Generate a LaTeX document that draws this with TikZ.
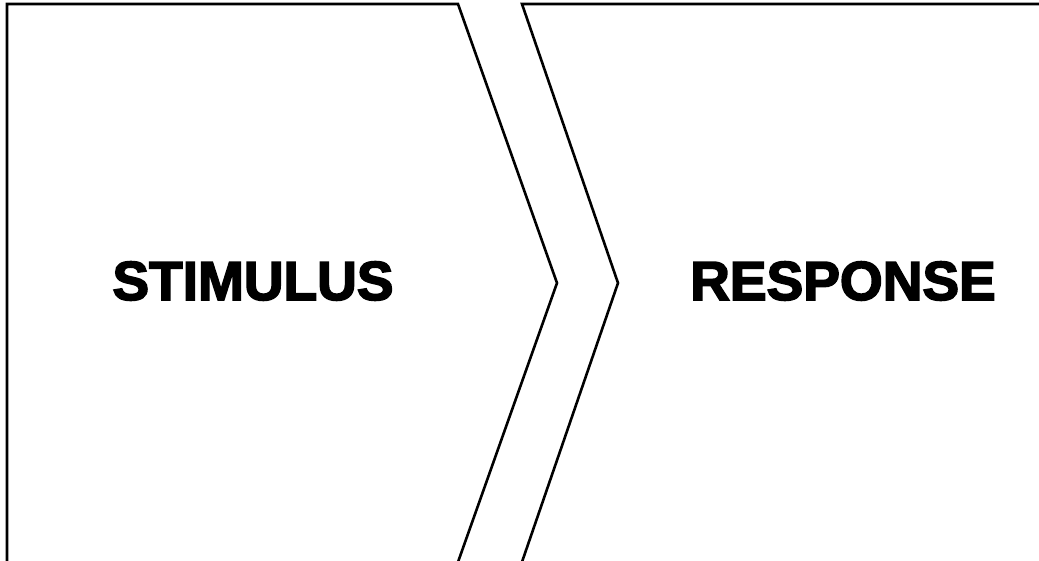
\documentclass[tikz,border=0pt]{standalone}
\usepackage{fontspec}
\setmainfont{Liberation Sans}
\newfontfamily\heavyfont[FakeBold=3]{Liberation Sans Bold}
\usetikzlibrary{positioning}
\tikzset{
  panel/.style = {draw=black, line width=2.6pt, line join=miter, fill=white},
  lbl/.style   = {font=\fontsize{55}{60}\heavyfont, inner sep=0pt},
}
\begin{document}
\begin{tikzpicture}[x=1pt,y=-1pt]
  \useasboundingbox (0,0) rectangle (1039,560);
  \clip (0,0) rectangle (1039,560);
  % stimulus panel, pointing right
  \draw[panel] (7,4) -- (458,4) -- (557,283) -- (453.4,575) -- (7,575) -- cycle;
  % response panel, notched on the left
  \draw[panel] (522,4) -- (1060,4) -- (1060,580) -- (517.5,575) -- (618,283) -- cycle;
  \node[lbl] (stim) at (253,281) {STIMULUS};
  \node[lbl] (resp) at (843,281) {RESPONSE};
\end{tikzpicture}
\end{document}
